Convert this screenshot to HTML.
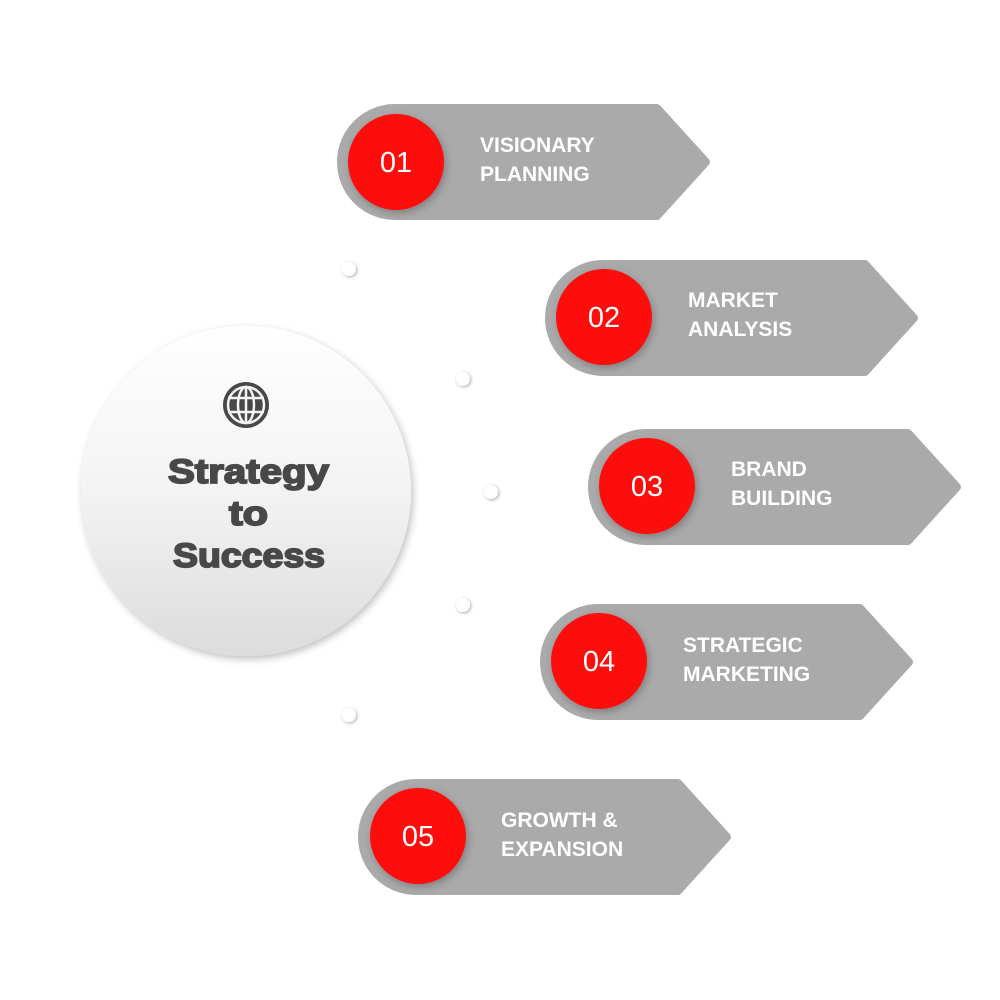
<!DOCTYPE html>
<html><head><style>
html,body{margin:0;padding:0;background:#fff;width:1000px;height:1000px;overflow:hidden}
svg text{font-family:"Liberation Sans",sans-serif;font-weight:bold}
</style></head><body>
<svg width="1000" height="1000" viewBox="0 0 1000 1000" xmlns="http://www.w3.org/2000/svg">
<defs>
<linearGradient id="cg" x1="0" y1="0" x2="0" y2="1">
<stop offset="0" stop-color="#ffffff"/><stop offset="0.5" stop-color="#f3f3f3"/><stop offset="1" stop-color="#dcdcdd"/>
</linearGradient>
<filter id="sh" x="-30%" y="-30%" width="160%" height="160%"><feDropShadow dx="2" dy="3" stdDeviation="4" flood-color="#000" flood-opacity="0.25"/></filter>
<filter id="sh2" x="-50%" y="-50%" width="200%" height="200%"><feDropShadow dx="1" dy="1" stdDeviation="1.5" flood-color="#000" flood-opacity="0.35"/></filter>
<g id="shape">
<path d="M58,4 L320,4 L369,58 L320,112 L58,112 A54,54 0 0 1 58,4 Z" fill="#aaaaaa" stroke="#aaaaaa" stroke-width="8" stroke-linejoin="round"/>
</g>
</defs>
<circle cx="246" cy="491" r="165" fill="url(#cg)" filter="url(#sh)"/>
<g transform="translate(246,405)">
<circle r="23" fill="#48484b"/>
<g stroke="#f4f4f4" stroke-width="2.5" fill="none">
<ellipse rx="8" ry="18"/><line x1="0" y1="-18" x2="0" y2="18"/>
<line x1="-18" y1="-7" x2="18" y2="-7"/><line x1="-18" y1="7" x2="18" y2="7"/>
<circle r="18"/>
</g>
</g>
<g fill="#48484b" stroke="#48484b" stroke-width="1.8" font-size="34">
<text x="168" y="483" textLength="161" lengthAdjust="spacingAndGlyphs">Strategy</text>
<text x="229" y="525" textLength="39" lengthAdjust="spacingAndGlyphs">to</text>
<text x="173" y="567" textLength="152" lengthAdjust="spacingAndGlyphs">Success</text>
</g>
<g fill="#fff" filter="url(#sh2)">
<circle cx="349" cy="269" r="7"/><circle cx="463" cy="379" r="7"/><circle cx="491" cy="492" r="7"/><circle cx="463" cy="605" r="7"/><circle cx="349" cy="715" r="7"/>
</g>
<g font-size="21" fill="#fff">
<use href="#shape" x="337" y="104"/>
<circle cx="396" cy="162" r="48" fill="#fe0b10" filter="url(#sh)"/>
<text x="396" y="172" font-size="29" text-anchor="middle" style="font-weight:normal">01</text>
<text x="480" y="152">VISIONARY</text><text x="480" y="181">PLANNING</text>

<use href="#shape" x="545" y="260"/>
<circle cx="604" cy="317" r="48" fill="#fe0b10" filter="url(#sh)"/>
<text x="604" y="327" font-size="29" text-anchor="middle" style="font-weight:normal">02</text>
<text x="688" y="307">MARKET</text><text x="688" y="336">ANALYSIS</text>

<use href="#shape" x="588" y="429"/>
<circle cx="647" cy="486" r="48" fill="#fe0b10" filter="url(#sh)"/>
<text x="647" y="496" font-size="29" text-anchor="middle" style="font-weight:normal">03</text>
<text x="731" y="476">BRAND</text><text x="731" y="505">BUILDING</text>

<use href="#shape" x="540" y="604"/>
<circle cx="599" cy="661" r="48" fill="#fe0b10" filter="url(#sh)"/>
<text x="599" y="671" font-size="29" text-anchor="middle" style="font-weight:normal">04</text>
<text x="683" y="652">STRATEGIC</text><text x="683" y="681">MARKETING</text>

<use href="#shape" x="358" y="779"/>
<circle cx="418" cy="836" r="48" fill="#fe0b10" filter="url(#sh)"/>
<text x="418" y="846" font-size="29" text-anchor="middle" style="font-weight:normal">05</text>
<text x="501" y="827">GROWTH &amp;</text><text x="501" y="856">EXPANSION</text>
</g>
</svg>
</body></html>
